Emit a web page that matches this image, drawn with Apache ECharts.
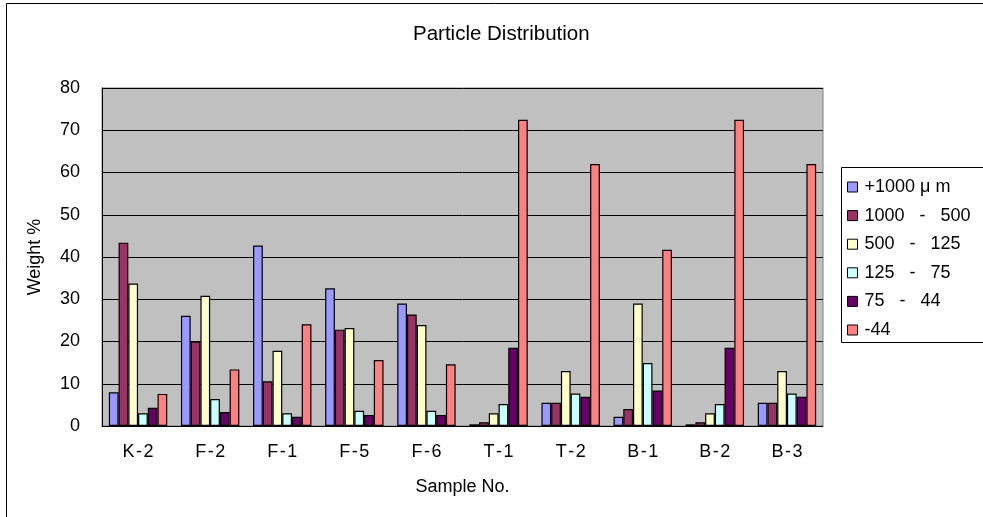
<!DOCTYPE html>
<html>
<head>
<meta charset="utf-8">
<title>Particle Distribution</title>
<script src="https://cdn.jsdelivr.net/npm/echarts@6/dist/echarts.min.js"></script>
<style>
  html, body { margin: 0; padding: 0; background: #fff; }
  #chart { width: 983px; height: 517px; }
</style>
</head>
<body>
<div id="chart"></div>
<script>
// sample names on the x axis
var samples = ['K\u200a-\u200a2', 'F\u200a-\u200a2', 'F\u200a-\u200a1', 'F\u200a-\u200a5', 'F\u200a-\u200a6',
               'T\u200a-\u200a1', 'T\u200a-\u200a2', 'B\u200a-\u200a1', 'B\u200a-\u200a2', 'B\u200a-\u200a3'];
var sizeNames = ['+1000 \u03bc m', '1000   -   500', '500   -   125', '125   -   75', '75   -   44', '-44'];

// weight % per size fraction
var plus1000 = [8.0, 26.1, 42.7, 32.6, 29.0, 0.4, 5.5, 2.2, 0.4, 5.5];
var r1000_500 = [43.4, 20.0, 10.6, 22.8, 26.4, 0.9, 5.5, 4.0, 0.9, 5.5];
var r500_125 = [33.7, 30.8, 17.8, 23.2, 23.9, 3.0, 13.0, 29.0, 3.0, 13.0];
var r125_75 = [3.0, 6.4, 3.0, 3.6, 3.6, 5.2, 7.7, 14.9, 5.2, 7.7];
var r75_44 = [4.3, 3.3, 2.2, 2.6, 2.6, 18.5, 6.9, 8.4, 18.5, 6.9];
var minus44 = [7.6, 13.4, 24.1, 15.6, 14.6, 72.5, 62.0, 41.7, 72.5, 62.0];

var yTicks = { min: 0, max: 80, interval: 10 };
var colors = ['#9999FF', '#993366', '#FFFFCC', '#CCFFFF', '#660066', '#FF8080'];
var seriesData = [plus1000, r1000_500, r500_125, r125_75, r75_44, minus44];

var myChart = echarts.init(document.getElementById('chart'));
var font = 'Arial, "Liberation Sans", sans-serif';

var series = [];
for (var i = 0; i < seriesData.length; i++) {
    series.push({
        name: sizeNames[i],
        type: 'bar',
        data: seriesData[i],
        barGap: '0%',
        barCategoryGap: '19%',
        itemStyle: {
            color: colors[i],
            borderColor: '#000',
            borderWidth: 1.2
        },
        emphasis: { disabled: true }
    });
}

var option = {
    animation: false,
    textStyle: { fontFamily: font, color: '#000' },
    title: {
        text: 'Particle Distribution',
        left: 413,
        top: 24,
        padding: 0,
        textStyle: { fontSize: 20.5, fontWeight: 'normal', color: '#000', fontFamily: font }
    },
    legend: {
        orient: 'vertical',
        left: 841,
        top: 167,
        padding: [11, 0, 4, 6],
        itemWidth: 10,
        itemHeight: 10,
        itemGap: 10.6,
        icon: 'rect',
        itemStyle: { borderColor: '#000', borderWidth: 1 },
        textStyle: { fontSize: 18, color: '#000', fontFamily: font, padding: [0, 0, 0, 2] },
        data: sizeNames
    },
    grid: {
        left: 102,
        right: 160,
        top: 88,
        bottom: 91,
        show: true,
        backgroundColor: '#C0C0C0',
        borderColor: '#808080',
        borderWidth: 1
    },
    xAxis: {
        type: 'category',
        data: samples,
        name: 'Sample No.',
        nameLocation: 'middle',
        nameGap: 52,
        nameTextStyle: { fontSize: 18, color: '#000', fontFamily: font },
        axisLine: { lineStyle: { color: '#000', width: 1 } },
        axisTick: { inside: true, length: 5, lineStyle: { color: '#000' } },
        axisLabel: { fontSize: 18, color: '#000', margin: 17, fontFamily: font }
    },
    yAxis: {
        type: 'value',
        min: yTicks.min,
        max: yTicks.max,
        interval: yTicks.interval,
        name: 'Weight %',
        nameLocation: 'middle',
        nameGap: 58,
        nameRotate: 90,
        nameTextStyle: { fontSize: 18, color: '#000', fontFamily: font },
        axisLine: { show: true, lineStyle: { color: '#000', width: 1 } },
        axisTick: { show: false },
        axisLabel: { fontSize: 18, color: '#000', margin: 22, fontFamily: font },
        splitLine: { lineStyle: { color: '#000', width: 1 } }
    },
    graphic: [{
        type: 'rect',
        silent: true,
        shape: { x: 6.5, y: 3.5, width: 1100, height: 700 },
        style: { fill: 'none', stroke: '#000', lineWidth: 1 }
    }, {
        // legend frame runs past the right edge like the original
        type: 'rect',
        silent: true,
        z: -1,
        shape: { x: 841.5, y: 167.5, width: 300, height: 175 },
        style: { fill: '#fff', stroke: '#000', lineWidth: 1 }
    }],
    series: series
};
myChart.setOption(option);
</script>
</body>
</html>
